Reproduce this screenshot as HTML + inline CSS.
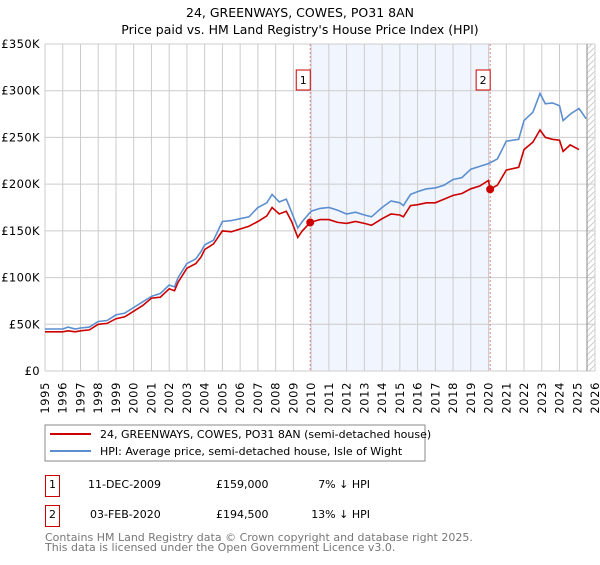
<!DOCTYPE html>
<html><head><meta charset="utf-8">
<style>
body{margin:0;background:#fff;font-family:"Liberation Sans","DejaVu Sans",sans-serif;}
svg text{font-family:"DejaVu Sans","Liberation Sans",sans-serif;}
</style></head>
<body>
<svg id="c" width="600" height="560" xmlns="http://www.w3.org/2000/svg">
<text x="300" y="17" text-anchor="middle" font-size="12.5">24, GREENWAYS, COWES, PO31 8AN</text>
<text x="300" y="34" text-anchor="middle" font-size="12.5">Price paid vs. HM Land Registry's House Price Index (HPI)</text>
<g id="plot"></g>
<g>
<rect x="45" y="425" width="380" height="36" fill="#fff" stroke="#888"/>
<line x1="50" y1="434" x2="91" y2="434" stroke="#cc0000" stroke-width="2"/>
<text x="100" y="438" font-size="11">24, GREENWAYS, COWES, PO31 8AN (semi-detached house)</text>
<line x1="50" y1="451" x2="91" y2="451" stroke="#5b8fd0" stroke-width="2"/>
<text x="100" y="455" font-size="11">HPI: Average price, semi-detached house, Isle of Wight</text>
</g>
<g font-size="11">
<rect x="45.5" y="475.5" width="14" height="21" fill="#fff" stroke="#cc0000"/>
<text x="52.5" y="488" text-anchor="middle">1</text>
<text x="88" y="488">11-DEC-2009</text>
<text x="216" y="488">£159,000</text>
<text x="370" y="488" text-anchor="end">7% ↓ HPI</text>
<rect x="45.5" y="505.5" width="14" height="21" fill="#fff" stroke="#cc0000"/>
<text x="52.5" y="518" text-anchor="middle">2</text>
<text x="90" y="518">03-FEB-2020</text>
<text x="216" y="518">£194,500</text>
<text x="370" y="518" text-anchor="end">13% ↓ HPI</text>
</g>
<text x="45" y="541" font-size="11" fill="#777">Contains HM Land Registry data © Crown copyright and database right 2025.</text>
<text x="45" y="551" font-size="11" fill="#777">This data is licensed under the Open Government Licence v3.0.</text>
</svg>
<script>
const yTicks=[0,50,100,150,200,250,300,350];
const yTickLabels=["£0","£50K","£100K","£150K","£200K","£250K","£300K","£350K"];
const xYears=[1995,1996,1997,1998,1999,2000,2001,2002,2003,2004,2005,2006,2007,2008,2009,2010,2011,2012,2013,2014,2015,2016,2017,2018,2019,2020,2021,2022,2023,2024,2025,2026];
const hpiDates=[1995,1995.5,1996,1996.3,1996.7,1997,1997.5,1998,1998.5,1999,1999.5,2000,2000.5,2001,2001.5,2002,2002.3,2002.5,2003,2003.5,2003.8,2004,2004.5,2005,2005.5,2006,2006.5,2007,2007.5,2007.8,2008.2,2008.6,2008.9,2009.25,2009.5,2010,2010.5,2011,2011.5,2012,2012.5,2013,2013.4,2014,2014.5,2015,2015.2,2015.6,2016,2016.5,2017,2017.5,2018,2018.5,2019,2019.5,2020,2020.5,2021,2021.7,2022,2022.5,2022.9,2023.2,2023.6,2024,2024.2,2024.6,2025.1,2025.5];
const hpiValues=[45,45,45,47,45,46,47,53,54,60,62,68,74,80,83,92,90,100,115,120,128,135,140,160,161,163,165,175,180,189,181,184,170,153,160,171,174,175,172,168,170,167,165,175,182,180,177,189,192,195,196,199,205,207,216,219,222,227,246,248,268,277,297,286,287,284,268,275,281,270];
const redDates=[1995,1995.5,1996,1996.3,1996.7,1997,1997.5,1998,1998.5,1999,1999.5,2000,2000.5,2001,2001.5,2002,2002.3,2002.5,2003,2003.5,2003.8,2004,2004.5,2005,2005.5,2006,2006.5,2007,2007.5,2007.8,2008.2,2008.6,2008.9,2009.25,2009.5,2009.95,2010.5,2011,2011.5,2012,2012.5,2013,2013.4,2014,2014.5,2015,2015.2,2015.6,2016,2016.5,2017,2017.5,2018,2018.5,2019,2019.5,2020.0,2020.09,2020.5,2021,2021.7,2022,2022.5,2022.9,2023.2,2023.6,2024,2024.2,2024.6,2025.1,2025.5];
const redValues=[42,42,42,43,42,43,44,50,51,56,58,64,70,78,79,88,86,95,110,115,122,130,136,150,149,152,155,160,166,175,168,171,160,143,150,159,162,162,159,158,160,158,156,163,168,167,165,177,178,180,180,184,188,190,195,198,204,194.5,199,215,218,237,245,258,250,248,247,235,242,237];
const sales=[{d:2009.95,v:159,n:"1"},{d:2020.09,v:194.5,n:"2"}];
const NS="http://www.w3.org/2000/svg";
const L=45,R=595,T=44,B=371;
const xS=y=>L+(y-1995)*(R-L)/31;
const yS=v=>B-v*(B-T)/350;
const g=document.getElementById('plot');
function mk(tag,attrs,parent){const e=document.createElementNS(NS,tag);for(const k in attrs)e.setAttribute(k,attrs[k]);(parent||g).appendChild(e);return e;}
let sh=mk('rect',{x:xS(sales[0].d),y:T,width:xS(sales[1].d)-xS(sales[0].d),height:B-T,fill:'#eef3fc',opacity:0.8});


const defs=mk('defs',{});
const pat=mk('pattern',{id:'h',width:6,height:6,patternUnits:'userSpaceOnUse'},defs);
mk('path',{d:'M0,6 L6,0',stroke:'#ccc','stroke-width':1},pat);
let ht=mk('rect',{x:xS(2025.55),y:T,width:R-xS(2025.55),height:B-T,fill:'url(#h)'});


xYears.forEach(y=>{const l=mk('line',{x1:xS(y),x2:xS(y),y1:T,y2:B,stroke:'#ccc'});


const t=mk('text',{x:0,y:0,'font-size':11.5,'letter-spacing':'0.6',transform:`translate(${xS(y)+4},${B+11}) rotate(-90)`,'text-anchor':'end'});t.textContent=y;

});
yTicks.forEach((v,i)=>{const l=mk('line',{x1:L,x2:R,y1:yS(v),y2:yS(v),stroke:'#ccc'});


const t=mk('text',{x:L-5,y:yS(v)+4,'font-size':11.5,'text-anchor':'end','letter-spacing':'0.4'});t.textContent=yTickLabels[i];

});
let ln=mk('line',{x1:xS(2025.55),x2:xS(2025.55),y1:T,y2:B,stroke:'#888'});


sales.forEach(s=>{const l=mk('line',{x1:xS(s.d),x2:xS(s.d),y1:T,y2:B,stroke:'#e08080','stroke-dasharray':'2,2'});

});
function path(ds,vs,col,name){const d=ds.map((x,i)=>(i?'L':'M')+xS(x).toFixed(1)+','+yS(vs[i]).toFixed(1)).join('');
const p=mk('path',{d:d,fill:'none',stroke:col,'stroke-width':1.6});

}
path(hpiDates,hpiValues,'#5b8fd0','hpi-line');
path(redDates,redValues,'#cc0000','property-line');
sales.forEach(s=>{const c=mk('circle',{cx:xS(s.d),cy:yS(s.v),r:4,fill:'#cc0000'});


const r=mk('rect',{x:xS(s.d)-14,y:70,width:14,height:20,fill:'#fff',stroke:'#cc0000'});


const t=mk('text',{x:xS(s.d)-7,y:84,'font-size':11,'text-anchor':'middle'});t.textContent=s.n;

});
</script>
</body></html>
